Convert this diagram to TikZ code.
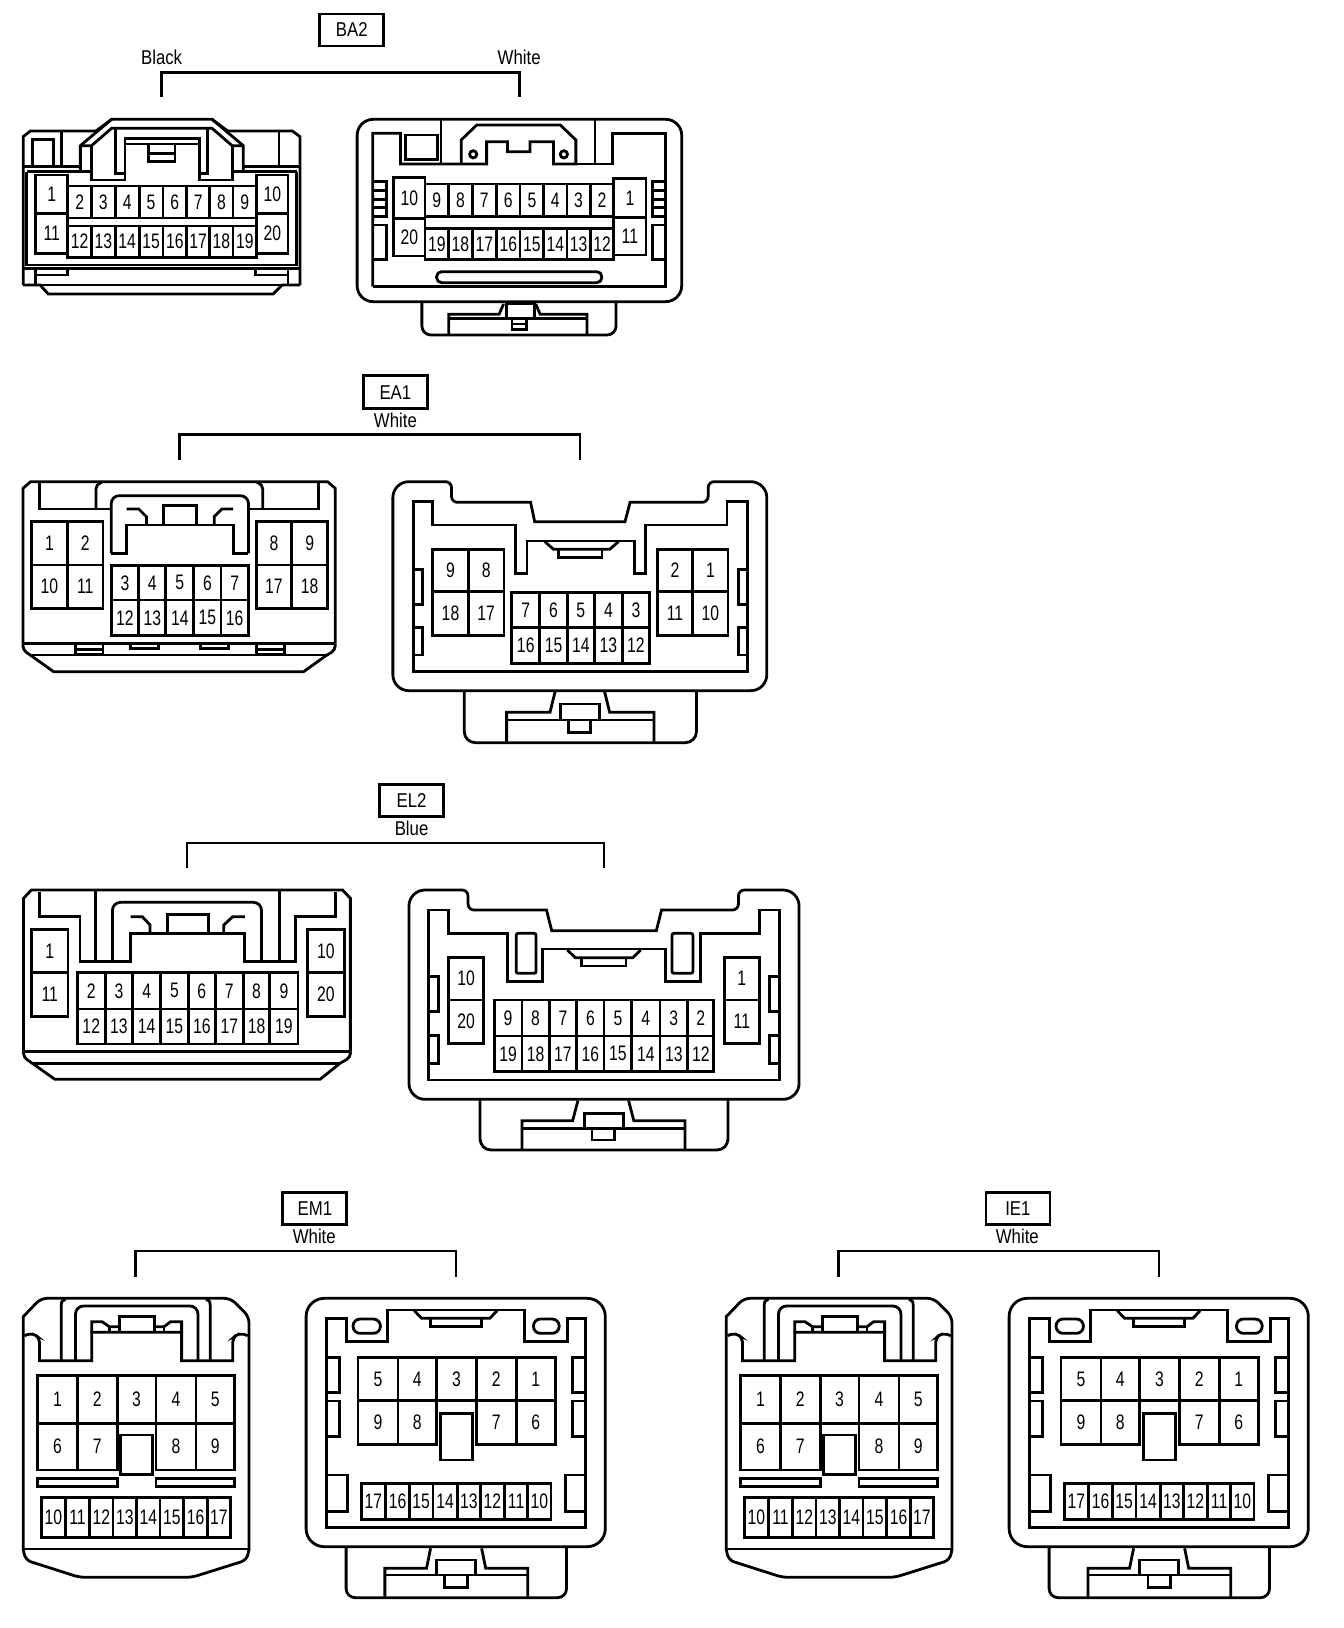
\documentclass[tikz,border=0pt]{standalone}
\usepackage{fontspec}
\setmainfont{Liberation Sans}
\newfontfamily\numf[FakeStretch=0.75]{Liberation Sans}
\newfontfamily\labf[FakeStretch=0.84]{Liberation Sans}
\tikzset{
  ln/.style={draw=black,line width=2.8pt,line join=miter},
  bk/.style={draw=black,line width=2.8pt},
  bkthin/.style={draw=black,line width=2pt},
  num/.style={inner sep=0pt,font=\numf\fontsize{21}{21}\selectfont},
  lab/.style={inner sep=0pt,font=\labf\fontsize{20}{20}\selectfont},
  tagbox/.style={draw=black,line width=2.8pt,fill=white,inner sep=0pt,font=\labf\fontsize{20}{20}\selectfont},
}
% prefix, y0, y1, list of x0/x1/label
\newcommand\pinsrow[4]{%
  \foreach \xa/\xb/\lab in {#4}{%
    \draw[ln] (\xa,#2) rectangle (\xb,#3);
    \node[num] (#1-\lab) at ({(\xa+\xb)/2},{(#2+#3)/2}) {\lab};
  }%
}
% a connector of the EM1 / IE1 family, drawn in the same local frame
\newcommand\emfamily[3]{%
\begin{scope}[shift={(#2,1170)},x=0.40816pt,y=-0.33333pt]
  \node[tagbox,minimum width=64pt,minimum height=32pt] (#1-tag) at (771.5,116.5) {#3};
  \node[lab] (#1-col) at (770,200) {White};
  \coordinate (#1-bl) at (332,320);
  \coordinate (#1-br) at (1117,320);
  \draw[bk] (#1-bl) -- ++(0,-77) -| (#1-br);
  % left housing
  \draw[ln] (57,1140) -- (57,440) [rounded corners=6pt] -- (100,385) -- (565,385) -- (610,440) [sharp corners] -- (610,1140);
  \draw[ln] (57,1137) [rounded corners=6pt] -- (62,1170) -- (195,1222) -- (470,1222) -- (605,1170) [sharp corners] -- (610,1137);
  \draw[ln] (57,1137) -- (610,1137);
  \draw[ln,rounded corners=5pt] (60,497) -- (80,488) -- (97,505) [sharp corners] -- (97,572) -- (225,572) -- (225,487) -- (445,487) -- (445,572) -- (570,572) [rounded corners=5pt] -- (570,505) -- (585,488) -- (607,497);
  \draw[ln] (150,572) -- (150,405) .. controls (150,395) .. (160,388);
  \draw[ln] (515,572) -- (515,405) .. controls (515,395) .. (505,388);
  \draw[ln,rounded corners=8pt] (185,572) -- (185,408) -- (485,408) -- (485,572);
  \draw[ln] (225,487) -- (225,455) -- (250,455) -- (268,470) -- (292,470);
  \draw[ln] (268,470) -- (268,487) (402,470) -- (402,487);
  \draw[ln] (445,487) -- (445,455) -- (418,455) -- (402,470) -- (378,470);
  \draw[ln] (292,487) -- (292,440) -- (378,440) -- (378,487);
  \pinsrow{#1L}{617}{760}{92/190/1,190/287/2,287/382/3,382/480/4,480/575/5}
  \pinsrow{#1L}{760}{900}{92/190/6,190/287/7,382/480/8,480/575/9}
  \draw[ln,fill=white] (295,795) rectangle (373,913);
  \draw[ln] (92,925) rectangle (287,950) (382,925) rectangle (575,950);
  \pinsrow{#1L}{982}{1103}{102/160/10,160/220/11,220/277/12,277/335/13,335/392/14,392/450/15,450/508/16,508/565/17}
  % right housing
  \draw[ln,rounded corners=18pt] (750,385) rectangle (1483,1130);
  \draw[ln] (800,1073) -- (800,445) -- (848,445) -- (848,515) -- (950,515) -- (950,420) -- (1285,420) -- (1285,515) -- (1390,515) -- (1390,445) -- (1435,445) -- (1435,1073) -- cycle;
  \draw[ln] (1015,422) -- (1033,445) -- (1200,445) -- (1218,422);
  \draw[ln] (1055,447) -- (1055,470) -- (1180,470) -- (1180,447);
  \draw[ln,rounded corners=7pt] (865,447) rectangle (932,490);
  \draw[ln,rounded corners=7pt] (1307,447) rectangle (1370,490);
  \draw[ln] (800,562) -- (832,562) -- (832,668) -- (800,668) (800,693) -- (832,693) -- (832,800) -- (800,800);
  \draw[ln] (1435,562) -- (1402,562) -- (1402,668) -- (1435,668) (1435,693) -- (1402,693) -- (1402,800) -- (1435,800);
  \draw[ln] (800,915) -- (852,915) -- (852,1025) -- (800,1025) (1435,915) -- (1385,915) -- (1385,1025) -- (1435,1025);
  \pinsrow{#1R}{562}{692}{877/975/5,975/1070/4,1070/1167/3,1167/1265/2,1265/1360/1}
  \pinsrow{#1R}{692}{823}{877/975/9,975/1070/8,1167/1265/7,1265/1360/6}
  \draw[ln,fill=white] (1080,730) rectangle (1157,870);
  \pinsrow{#1R}{940}{1048}{885/945/17,945/1003/16,1003/1061/15,1061/1120/14,1120/1177/13,1177/1236/12,1236/1293/11,1293/1350/10}
  \draw[ln,rounded corners=9pt] (848,1130) -- (848,1283) -- (1388,1283) -- (1388,1130);
  \draw[ln] (943,1280) -- (943,1195) -- (1045,1195) -- (1055,1135);
  \draw[ln] (1293,1280) -- (1293,1195) -- (1190,1195) -- (1180,1135);
  \draw[ln] (943,1215) -- (1293,1215);
  \draw[ln] (1070,1215) -- (1070,1170) -- (1165,1170) -- (1165,1215);
  \draw[ln] (1090,1215) -- (1090,1252) -- (1145,1252) -- (1145,1215);
\end{scope}}
\begin{document}
\begin{tikzpicture}[x=1pt,y=-1pt]
\useasboundingbox (0,0) rectangle (1344,1628);
\fill[white] (0,0) rectangle (1344,1628);

%%%%%%%%%%%%%%%%%%%%% BA2
\begin{scope}[shift={(0,0)},x=0.44643pt,y=-0.33333pt]
  \node[tagbox,minimum width=64pt,minimum height=32pt] (ba-tag) at (788,90) {BA2};
  \node[lab] (ba-black) at (362,172) {Black};
  \node[lab] (ba-white) at (1163,172) {White};
  \coordinate (ba-bl) at (361,292);
  \coordinate (ba-br) at (1163,292);
  \draw[bk] (ba-bl) -- ++(0,-74) -| (ba-br);
  % left housing
  \draw[ln] (52,855) -- (52,410) -- (68,393) -- (215,393) -- (250,358) -- (475,358) -- (510,393) -- (655,393) -- (672,410) -- (672,855);
  \draw[ln] (138,393) -- (138,500) (625,393) -- (625,500);
  \draw[ln] (72,500) -- (72,418) -- (120,418) -- (120,500);
  \draw[ln] (52,500) -- (180,500) (545,500) -- (672,500);
  \draw[ln] (180,515) -- (180,437) -- (250,358);
  \draw[ln] (545,515) -- (545,437) -- (475,358);
  \draw[ln] (180,437) -- (205,437) -- (250,385) -- (475,385) -- (520,437) -- (545,437);
  \draw[ln] (205,437) -- (205,540) -- (280,540) -- (280,415) -- (447,415) -- (447,540) -- (520,540) -- (520,437);
  \draw[ln] (280,432) -- (447,432);
  \draw[ln] (258,385) -- (258,520) -- (280,520) (465,385) -- (465,520) -- (447,520);
  \draw[ln] (332,432) rectangle (392,485) (332,460) -- (392,460);
  \draw[ln] (60,515) -- (205,515) (520,515) -- (665,515);
  \draw[ln] (60,515) -- (60,795) -- (665,795) -- (665,515);
  \draw[ln] (52,805) -- (672,805);
  \draw[ln] (52,855) -- (90,855) -- (108,882) -- (612,882) -- (632,855) -- (672,855);
  \draw[ln] (90,855) -- (632,855);
  \draw[ln] (80,805) -- (80,855) (80,825) -- (152,825) -- (152,805);
  \draw[ln] (645,805) -- (645,855) (645,825) -- (572,825) -- (572,805);
  \pinsrow{bal}{525}{640}{80/152/1}
  \pinsrow{bal}{640}{760}{80/152/11}
  \pinsrow{bal}{558}{654}{152/205/2,205/258/3,258/312/4,312/365/5,365/418/6,418/470/7,470/522/8,522/575/9}
  \pinsrow{bal}{678}{772}{152/205/12,205/258/13,258/312/14,312/365/15,365/418/16,418/470/17,470/522/18,522/575/19}
  \pinsrow{bal}{525}{640}{575/645/10}
  \pinsrow{bal}{640}{760}{575/645/20}
  % right housing
  \draw[ln,rounded corners=16pt] (800,358) rectangle (1527,905);
  \draw[ln] (835,860) -- (835,400) -- (897,400) -- (897,492) -- (1033,492) -- (1033,420) -- (1068,375) -- (1255,375) -- (1290,420) -- (1290,492) -- (1240,492) -- (1240,425) -- (1187,425) -- (1187,455) -- (1137,455) -- (1137,425) -- (1090,425) -- (1090,492) -- (1033,492);
  \draw[ln] (1290,492) -- (1333,492) -- (1372,492) -- (1372,400) -- (1490,400) -- (1490,860) -- (835,860);
  \draw[ln] (988,358) -- (988,492) (1333,358) -- (1333,492);
  \draw[ln] (908,405) rectangle (980,478);
  \draw[ln] (1060,463) circle[radius=3.6pt] (1263,463) circle[radius=3.6pt];
  \draw[ln] (835,545) -- (865,545) -- (865,650) -- (835,650) (835,572) -- (865,572) (835,598) -- (865,598) (835,622) -- (865,622);
  \draw[ln] (835,675) -- (865,675) -- (865,778) -- (835,778);
  \draw[ln] (1490,545) -- (1462,545) -- (1462,650) -- (1490,650) (1490,572) -- (1462,572) (1490,598) -- (1462,598) (1490,622) -- (1462,622);
  \draw[ln] (1490,675) -- (1462,675) -- (1462,778) -- (1490,778);
  \draw[ln,rounded corners=5pt] (978,815) rectangle (1348,848);
  \pinsrow{bar}{532}{655}{882/952/10}
  \pinsrow{bar}{655}{768}{882/952/20}
  \pinsrow{bar}{552}{650}{952/1005/9,1005/1058/8,1058/1112/7,1112/1165/6,1165/1218/5,1218/1270/4,1270/1322/3,1322/1375/2}
  \pinsrow{bar}{686}{778}{952/1005/19,1005/1058/18,1058/1112/17,1112/1165/16,1165/1218/15,1218/1270/14,1270/1322/13,1322/1375/12}
  \pinsrow{bar}{535}{652}{1375/1447/1}
  \pinsrow{bar}{652}{765}{1375/1447/11}
  \draw[ln,rounded corners=9pt] (945,905) -- (945,1005) -- (1380,1005) -- (1380,905);
  \draw[ln] (1005,1003) -- (1005,943) -- (1118,943) -- (1128,912);
  \draw[ln] (1315,1003) -- (1315,943) -- (1210,943) -- (1200,912);
  \draw[ln] (1005,955) -- (1135,955) (1197,955) -- (1315,955);
  \draw[ln] (1135,912) rectangle (1197,955);
  \draw[ln] (1147,955) rectangle (1180,988) (1147,972) -- (1180,972);
\end{scope}

%%%%%%%%%%%%%%%%%%%%% EA1
\begin{scope}[shift={(0,360)},x=0.51020pt,y=-0.33333pt]
  \node[tagbox,minimum width=64pt,minimum height=33pt] (ea-tag) at (775,97) {EA1};
  \node[lab] (ea-col) at (775,182) {White};
  \coordinate (ea-bl) at (352,300);
  \coordinate (ea-br) at (1137,300);
  \draw[bk] (ea-bl) -- ++(0,-77) -| (ea-br);
  % left housing
  \draw[ln] (45,850) -- (45,385) -- (60,365) -- (642,365) -- (657,385) -- (657,850);
  \draw[ln] (45,850) [rounded corners=4pt] -- (45,870) -- (62,888) [sharp corners] -- (105,935) -- (595,935) -- (638,888) [rounded corners=4pt] -- (657,870) [sharp corners] -- (657,850);
  \draw[ln] (45,850) -- (657,850) (62,885) -- (638,885);
  \draw[ln] (78,370) -- (78,447) -- (218,447) (487,447) -- (625,447) -- (625,370);
  \draw[ln,rounded corners=5pt] (188,447) -- (188,372) -- (200,367);
  \draw[ln,rounded corners=5pt] (515,447) -- (515,372) -- (503,367);
  \draw[ln,rounded corners=8pt] (218,580) -- (218,407) -- (487,407) -- (487,580);
  \draw[ln] (218,580) -- (248,580) -- (248,495) -- (457,495) -- (457,580) -- (487,580);
  \draw[ln] (248,447) -- (272,447) -- (287,470) -- (287,495);
  \draw[ln] (457,447) -- (435,447) -- (420,470) -- (420,495);
  \draw[ln] (320,495) -- (320,437) -- (385,437) -- (385,495);
  \pinsrow{eal}{485}{615}{62/132/1,132/202/2,502/572/8,572/642/9}
  \pinsrow{eal}{615}{745}{62/132/10,132/202/11,502/572/17,572/642/18}
  \pinsrow{eal}{617}{720}{218/272/3,272/325/4,325/380/5,380/433/6,433/487/7}
  \pinsrow{eal}{720}{827}{218/272/12,272/325/13,325/380/14,380/433/15,433/487/16}
  \draw[ln] (148,852) rectangle (202,882) (148,868) -- (202,868);
  \draw[ln] (502,852) rectangle (557,882) (502,868) -- (557,868);
  \draw[ln] (255,852) -- (255,865) -- (310,865) -- (310,852);
  \draw[ln] (393,852) -- (393,865) -- (448,865) -- (448,852);
  % right housing
  \draw[ln] (1040,427) -- (1048,485) -- (1225,485) -- (1235,427) [rounded corners=6pt] -- (1388,427) -- (1388,365) [rounded corners=16pt] -- (1503,365) -- (1503,992) -- (770,992) -- (770,365) [rounded corners=6pt] -- (885,365) -- (885,427) [sharp corners] -- cycle;
  \draw[ln] (810,935) -- (810,425) -- (848,425) -- (848,495) -- (1010,495) -- (1010,640) -- (1033,640) -- (1033,543) -- (1243,543) -- (1243,640) -- (1265,640) -- (1265,495) -- (1425,495) -- (1425,425) -- (1465,425) -- (1465,935) -- cycle;
  \draw[ln] (1068,545) -- (1085,568) -- (1195,568) -- (1212,545);
  \draw[ln] (1095,568) -- (1095,593) -- (1180,593) -- (1180,568);
  \draw[ln] (810,628) -- (828,628) -- (828,733) -- (810,733) (810,803) -- (828,803) -- (828,885) -- (810,885);
  \draw[ln] (1465,628) -- (1447,628) -- (1447,733) -- (1465,733) (1465,803) -- (1447,803) -- (1447,885) -- (1465,885);
  \pinsrow{ear}{568}{695}{848/918/9,918/988/8,1288/1358/2,1358/1427/1}
  \pinsrow{ear}{695}{827}{848/918/18,918/988/17,1288/1358/11,1358/1427/10}
  \pinsrow{ear}{697}{803}{1003/1058/7,1058/1112/6,1112/1165/5,1165/1220/4,1220/1273/3}
  \pinsrow{ear}{803}{910}{1003/1058/16,1058/1112/15,1112/1165/14,1165/1220/13,1220/1273/12}
  \draw[ln,rounded corners=11pt] (910,992) -- (910,1148) -- (1365,1148) -- (1365,992);
  \draw[ln] (993,1145) -- (993,1057) -- (1078,1057) -- (1088,995);
  \draw[ln] (1282,1145) -- (1282,1057) -- (1195,1057) -- (1185,995);
  \draw[ln] (993,1080) -- (1282,1080);
  \draw[ln] (1098,1080) -- (1098,1032) -- (1175,1032) -- (1175,1080);
  \draw[ln] (1115,1080) -- (1115,1118) -- (1158,1118) -- (1158,1080);
\end{scope}

%%%%%%%%%%%%%%%%%%%%% EL2
\begin{scope}[shift={(0,770)},x=0.52296pt,y=-0.33333pt]
  \node[tagbox,minimum width=64pt,minimum height=32pt] (el-tag) at (787,92) {EL2};
  \node[lab] (el-col) at (787,176) {Blue};
  \coordinate (el-bl) at (358,295);
  \coordinate (el-br) at (1155,295);
  \draw[bkthin] (el-bl) -- ++(0,-77) -| (el-br);
  % left housing
  \draw[ln] (45,845) -- (45,385) -- (60,360) -- (655,360) -- (670,385) -- (670,845);
  \draw[ln] (45,845) [rounded corners=4pt] -- (45,862) -- (62,880) [sharp corners] -- (105,928) -- (612,928) -- (650,880) [rounded corners=4pt] -- (670,862) [sharp corners] -- (670,845);
  \draw[ln] (45,845) -- (670,845) (62,880) -- (650,880);
  \draw[ln] (75,365) -- (75,440) -- (153,440) -- (153,575) -- (250,575) -- (250,490) -- (468,490) -- (468,575) -- (565,575) -- (565,440) -- (642,440) -- (642,365);
  \draw[ln] (183,362) -- (183,575) (535,362) -- (535,575);
  \draw[ln,rounded corners=8pt] (215,575) -- (215,397) -- (500,397) -- (500,575);
  \draw[ln] (250,440) -- (272,440) -- (287,465) -- (287,490);
  \draw[ln] (468,440) -- (445,440) -- (428,465) -- (428,490);
  \draw[ln] (320,490) -- (320,433) -- (398,433) -- (398,490);
  \pinsrow{ell}{478}{608}{60/130/1,588/658/10}
  \pinsrow{ell}{608}{740}{60/130/11,588/658/20}
  \pinsrow{ell}{608}{717}{148/201/2,201/254/3,254/307/4,307/360/5,360/412/6,412/465/7,465/516/8,516/570/9}
  \pinsrow{ell}{717}{822}{148/201/12,201/254/13,254/307/14,307/360/15,360/412/16,412/465/17,465/516/18,516/570/19}
  % right housing
  \draw[ln] (1045,420) -- (1055,482) -- (1255,482) -- (1265,420) [rounded corners=6pt] -- (1412,420) -- (1412,360) [rounded corners=16pt] -- (1528,360) -- (1528,988) -- (782,988) -- (782,360) [rounded corners=6pt] -- (895,360) -- (895,420) [sharp corners] -- cycle;
  \draw[ln] (820,930) -- (820,420) -- (857,420) -- (857,490) -- (970,490) -- (970,635) -- (1037,635) -- (1037,537) -- (1272,537) -- (1272,635) -- (1340,635) -- (1340,490) -- (1452,490) -- (1452,420) -- (1490,420) -- (1490,930) -- cycle;
  \draw[ln,rounded corners=2pt] (987,490) rectangle (1025,610);
  \draw[ln,rounded corners=2pt] (1285,490) rectangle (1325,610);
  \draw[ln] (1085,540) -- (1100,563) -- (1210,563) -- (1225,540);
  \draw[ln] (1112,563) -- (1112,588) -- (1197,588) -- (1197,563);
  \draw[ln] (820,620) -- (838,620) -- (838,725) -- (820,725) (820,797) -- (838,797) -- (838,880) -- (820,880);
  \draw[ln] (1490,620) -- (1472,620) -- (1472,725) -- (1490,725) (1490,797) -- (1472,797) -- (1472,880) -- (1490,880);
  \pinsrow{elr}{562}{690}{858/925/10,1385/1452/1}
  \pinsrow{elr}{690}{820}{858/925/20,1385/1452/11}
  \pinsrow{elr}{690}{798}{945/998/9,998/1050/8,1050/1103/7,1103/1155/6,1155/1208/5,1208/1262/4,1262/1315/3,1315/1365/2}
  \pinsrow{elr}{798}{905}{945/998/19,998/1050/18,1050/1103/17,1103/1155/16,1155/1208/15,1208/1262/14,1262/1315/13,1315/1365/12}
  \draw[ln,rounded corners=11pt] (918,988) -- (918,1140) -- (1392,1140) -- (1392,988);
  \draw[ln] (998,1137) -- (998,1052) -- (1095,1052) -- (1105,992);
  \draw[ln] (1310,1137) -- (1310,1052) -- (1212,1052) -- (1202,992);
  \draw[ln] (998,1075) -- (1310,1075);
  \draw[ln] (1117,1075) -- (1117,1030) -- (1192,1030) -- (1192,1075);
  \draw[ln] (1132,1075) -- (1132,1110) -- (1175,1110) -- (1175,1075);
\end{scope}

%%%%%%%%%%%%%%%%%%%%% EM1, IE1
\emfamily{em}{0}{EM1}
\emfamily{ie}{703}{IE1}
\end{tikzpicture}
\end{document}
